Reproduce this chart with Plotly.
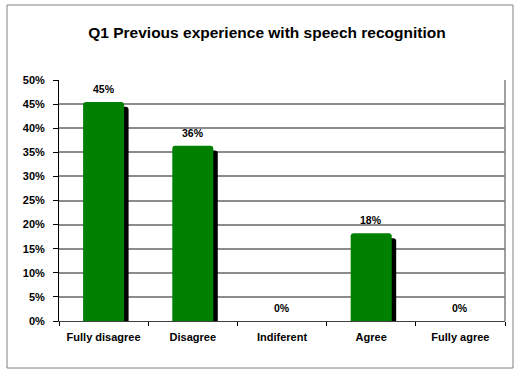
import plotly.graph_objects as go

categories = ["Fully disagree", "Disagree", "Indiferent", "Agree", "Fully agree"]
values = [45.45, 36.36, 0, 18.18, 0]
labels = ["45%", "36%", "0%", "18%", "0%"]
y_ticks = [0, 5, 10, 15, 20, 25, 30, 35, 40, 45, 50]

W, H = 521, 372
ml, mr, mt, mb = 59, 16, 80, 51
pw, ph = W - ml - mr, H - mt - mb

font_fam = "Liberation Sans, Arial, sans-serif"
shadow_vals = [max(0, v - 1.0) for v in values]

fig = go.Figure()
fig.add_trace(go.Bar(
    x=categories, y=shadow_vals, width=0.46, offset=-0.23 + 0.05,
    marker=dict(color="black", line=dict(width=0), cornerradius=3),
    hoverinfo="skip", showlegend=False,
))
fig.add_trace(go.Bar(
    x=categories, y=values, width=0.46, offset=-0.23,
    marker=dict(color="#008000", line=dict(width=0), cornerradius=3),
    showlegend=False,
))

for c, v, t in zip(categories, values, labels):
    fig.add_annotation(x=c, y=v, text=t, showarrow=False, yanchor="bottom",
                       yshift=5, font=dict(family=font_fam, size=10.5, color="black", weight="bold"))

bx0 = (7 - ml) / pw
bx1 = (513 - ml) / pw
by0 = ((H - mb) - 368) / ph
by1 = ((H - mb) - 5) / ph
fig.add_shape(type="rect", xref="paper", yref="paper", x0=bx0, x1=bx1, y0=by0, y1=by1,
              line=dict(color="#808080", width=1), fillcolor="rgba(0,0,0,0)", layer="below")
fig.add_shape(type="line", xref="paper", yref="paper", x0=1, x1=1, y0=0, y1=1,
              line=dict(color="#808080", width=1.5))

fig.update_layout(
    width=W, height=H,
    margin=dict(l=ml, r=mr, t=mt, b=mb),
    paper_bgcolor="white", plot_bgcolor="white",
    barmode="overlay",
    title=dict(text="Q1 Previous experience with speech recognition",
               x=267 / W, xanchor="center", y=1 - 33 / H, yanchor="middle",
               font=dict(family=font_fam, size=15.5, color="black", weight="bold")),
    font=dict(family=font_fam, size=11, color="black"),
)
fig.update_xaxes(
    type="category", tickson="boundaries", ticks="outside", ticklen=4, tickcolor="black",
    showline=True, linecolor="#404040", linewidth=1,
    tickfont=dict(family=font_fam, size=11, color="black", weight="bold"),
    ticklabelstandoff=6,
    range=[-0.5, 4.5], fixedrange=True,
)
fig.update_yaxes(
    range=[0, 50], tickvals=y_ticks, ticktext=[f"{t}%" for t in y_ticks],
    ticks="outside", ticklen=5, tickcolor="black",
    showline=True, linecolor="black", linewidth=1,
    showgrid=True, gridcolor="#8c8c8c", gridwidth=1.5,
    tickfont=dict(family=font_fam, size=11, color="black", weight="bold"),
    ticklabelstandoff=6,
    zeroline=False,
)

fig.write_html("out.html")
